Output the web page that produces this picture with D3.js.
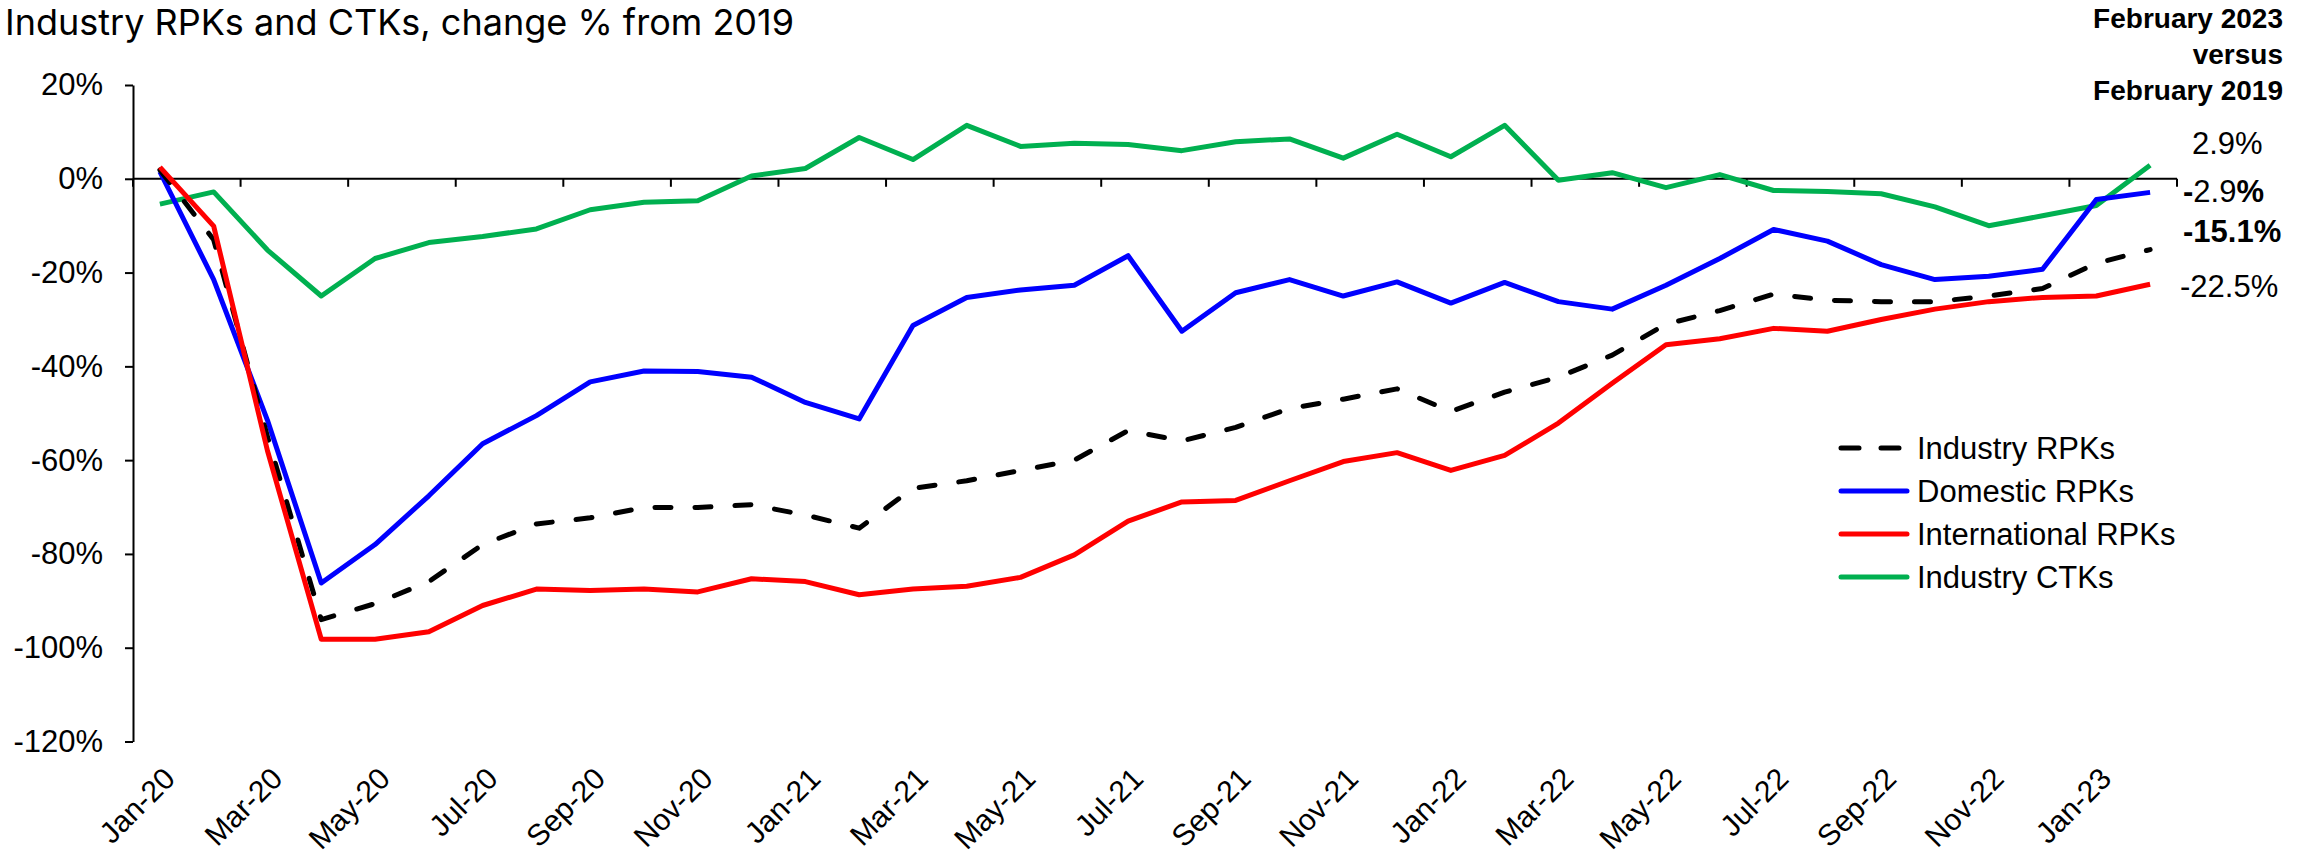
<!DOCTYPE html>
<html>
<head>
<meta charset="utf-8">
<script src="https://cdn.jsdelivr.net/npm/d3@7"></script>
<style>
  body { margin: 0; background: #fff; }
  svg { display: block; font-family: "Liberation Sans", Arial, sans-serif; }
</style>
</head>
<body>
<svg id="chart"></svg>
<script>
// months Jan-20 .. Feb-23
const months = ['Jan-20','Feb-20','Mar-20','Apr-20','May-20','Jun-20','Jul-20','Aug-20','Sep-20','Oct-20','Nov-20','Dec-20',
  'Jan-21','Feb-21','Mar-21','Apr-21','May-21','Jun-21','Jul-21','Aug-21','Sep-21','Oct-21','Nov-21','Dec-21',
  'Jan-22','Feb-22','Mar-22','Apr-22','May-22','Jun-22','Jul-22','Aug-22','Sep-22','Oct-22','Nov-22','Dec-22',
  'Jan-23','Feb-23'];

const industryRPK = [1.9,-13,-55,-94,-90.6,-85.9,-78,-73.6,-72.3,-70.1,-70.1,-69.5,
  -71.7,-74.5,-66,-64.4,-62.2,-60,-53.7,-55.9,-53,-49,-47,-44.8,
  -49.6,-45.5,-42.3,-37.6,-31,-28.1,-24.6,-25.9,-26.2,-26.2,-25,-23.4,
  -18,-15.1];
const domesticRPK = [1.5,-21.5,-51.5,-86.2,-78,-67.6,-56.5,-50.5,-43.3,-41,-41.1,-42.3,
  -47.7,-51.2,-31.3,-25.3,-23.7,-22.7,-16.4,-32.5,-24.3,-21.5,-25,-22,
  -26.5,-22.1,-26.2,-27.8,-22.7,-17,-10.8,-13.3,-18.3,-21.5,-20.8,-19.3,
  -4.4,-2.9];
const internationalRPK = [2.5,-10.1,-58,-98.2,-98.2,-96.6,-91,-87.5,-87.8,-87.5,-88.1,-85.3,
  -85.9,-88.7,-87.5,-86.9,-85,-80.2,-73,-68.9,-68.6,-64.4,-60.3,-58.4,
  -62.2,-59,-52.1,-43.6,-35.4,-34.1,-31.9,-32.5,-30,-27.8,-26.2,-25.3,
  -25,-22.5];
const industryCTK = [-5.4,-2.8,-15.2,-25,-17,-13.6,-12.3,-10.7,-6.6,-5,-4.7,0.6,
  2.2,8.8,4.1,11.4,6.9,7.6,7.3,6,7.9,8.5,4.4,9.5,
  4.7,11.4,-0.3,1.3,-1.9,0.9,-2.5,-2.7,-3.2,-6,-10,-7.9,
  -5.7,2.9];

const seriesNames = ['Industry RPKs','Domestic RPKs','International RPKs','Industry CTKs'];
const yTicks = [20,0,-20,-40,-60,-80,-100,-120];
const headerLines = ['February 2023','versus','February 2019'];
const endLabels = ['2.9%','-2.9%','-15.1%','-22.5%'];
const endValues = [2.9,-2.9,-15.1,-22.5];

const W = 2321, H = 855;
const svg = d3.select('#chart').attr('width', W).attr('height', H);
svg.append('rect').attr('width', W).attr('height', H).attr('fill', '#fff');

const plotLeft = 133, plotRight = 2177, plotTop = 85, plotBottom = 741.5;

const x = d3.scaleBand().domain(months).range([plotLeft, plotRight]).padding(0);
const y = d3.scaleLinear().domain([-120, 20]).range([plotBottom, plotTop]);
const cx = m => x(m) + x.bandwidth() / 2;

// title
svg.append('text')
  .attr('x', 5).attr('y', 35)
  .style('font-family', 'Inter, Roboto, sans-serif')
  .style('font-size', '36px')
  .text('Industry RPKs and CTKs, change % from 2019');

// y axis
const yAxis = d3.axisLeft(y)
  .tickValues(yTicks)
  .tickSize(8)
  .tickSizeOuter(0)
  .tickPadding(22)
  .tickFormat(d => d + '%');

const gy = svg.append('g')
  .attr('transform', `translate(${plotLeft},0)`)
  .call(yAxis);
gy.select('.domain').attr('stroke', '#000').attr('stroke-width', 2);
gy.selectAll('.tick line').attr('stroke', '#000').attr('stroke-width', 2);
gy.selectAll('.tick text')
  .attr('fill', '#000')
  .style('font-size', '31px')
  .style('font-family', '"Liberation Sans", Arial, sans-serif');

// x axis line at 0%
svg.append('line')
  .attr('x1', plotLeft).attr('x2', plotRight)
  .attr('y1', y(0)).attr('y2', y(0))
  .attr('stroke', '#000').attr('stroke-width', 2);

const tickIdx = months.map((m, i) => i).filter(i => i % 2 === 0);
svg.append('g').selectAll('line')
  .data(tickIdx.map(i => x(months[i])).concat([plotRight]))
  .join('line')
  .attr('x1', d => d).attr('x2', d => d)
  .attr('y1', y(0)).attr('y2', y(0) + 8)
  .attr('stroke', '#000').attr('stroke-width', 2);

// x labels at the bottom
svg.append('g').selectAll('text')
  .data(tickIdx.map(i => months[i]))
  .join('text')
  .attr('transform', d => `translate(${cx(d) + 2},${plotBottom + 24}) rotate(-45)`)
  .attr('text-anchor', 'end')
  .attr('dy', '0.7em')
  .style('font-size', '30px')
  .text(d => d);

// lines
const line = d3.line()
  .x((d, i) => cx(months[i]))
  .y(d => y(d));

const series = [
  { name: seriesNames[0], values: industryRPK, color: '#000000', dash: '16,24' },
  { name: seriesNames[1], values: domesticRPK, color: '#0000FF', dash: null },
  { name: seriesNames[2], values: internationalRPK, color: '#FF0000', dash: null },
  { name: seriesNames[3], values: industryCTK, color: '#00B050', dash: null }
];

const drawOrder = [series[3], series[1], series[0], series[2]];
drawOrder.forEach(s => {
  svg.append('path')
    .datum(s.values)
    .attr('fill', 'none')
    .attr('stroke', s.color)
    .attr('stroke-width', 5)
    .attr('stroke-linejoin', 'round')
    .attr('stroke-linecap', s.dash ? 'round' : 'butt')
    .attr('stroke-dasharray', s.dash)
    .attr('d', line);
});

// legend
const lg = svg.append('g').attr('transform', 'translate(1839,448)');
series.forEach((s, i) => {
  const row = lg.append('g').attr('transform', `translate(0,${i * 43})`);
  row.append('line')
    .attr('x1', 2).attr('x2', 68)
    .attr('stroke', s.color)
    .attr('stroke-width', 5)
    .attr('stroke-linecap', 'round')
    .attr('stroke-dasharray', s.dash ? '18,22' : null);
  row.append('text')
    .attr('x', 78).attr('dy', '0.35em')
    .style('font-size', '31px')
    .text(s.name);
});

// header on the right
svg.append('g').selectAll('text')
  .data(headerLines)
  .join('text')
  .attr('x', 2283)
  .attr('y', (d, i) => 28 + i * 36)
  .attr('text-anchor', 'end')
  .style('font-size', '28px')
  .style('font-weight', 'bold')
  .text(d => d);

// end values; the second one mixes weights in the original
const endOffsets = [-11, 10, -8, 12.5];
const endX = [2192, 2183, 2183, 2180];
const endBold = [false, true, true, false];
const endText = svg.append('g').selectAll('text')
  .data(endLabels)
  .join('text')
  .attr('x', (d, i) => endX[i])
  .attr('y', (d, i) => y(endValues[i]) + endOffsets[i])
  .style('font-size', '31px')
  .style('font-weight', (d, i) => endBold[i] && i !== 1 ? 'bold' : 'normal');

endText.each(function (d, i) {
  const t = d3.select(this);
  if (i === 1) {
    const parts = [d.slice(0, 1), d.slice(1, -1), d.slice(-1)];
    parts.forEach((p, j) => {
      t.append('tspan').style('font-weight', j === 1 ? 'normal' : 'bold').text(p);
    });
  } else {
    t.text(d);
  }
});
</script>
</body>
</html>
